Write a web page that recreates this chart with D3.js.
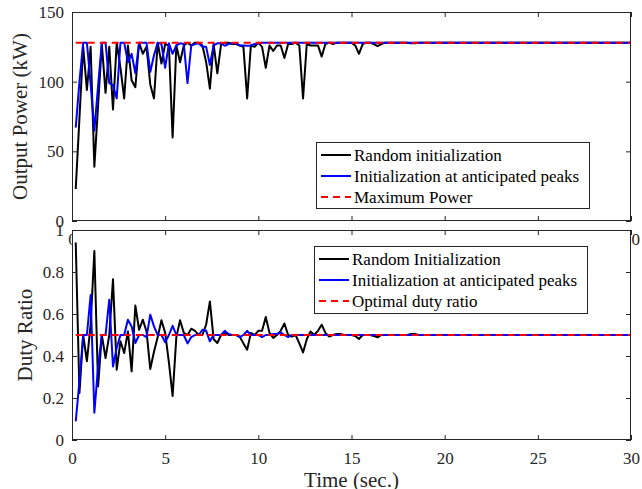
<!DOCTYPE html>
<html>
<head>
<meta charset="utf-8">
<script src="https://cdn.jsdelivr.net/npm/d3@7"></script>
<style>
  body { margin: 0; background: #fff; }
  svg { display: block; }
  svg text { font-family: "Liberation Serif", "Times New Roman", serif; }
</style>
</head>
<body>
<div id="graph"></div>
<script>
// sample times (s)
var timeSec = [
  0.2, 0.4, 0.6, 0.8, 1.0, 1.2, 1.4, 1.6, 1.8, 2.0,
  2.2, 2.4, 2.6, 2.8, 3.0, 3.2, 3.4, 3.6, 3.8, 4.0,
  4.2, 4.4, 4.6, 4.8, 5.0, 5.2, 5.4, 5.6, 5.8, 6.0,
  6.2, 6.4, 6.6, 6.8, 7.0, 7.2, 7.4, 7.6, 7.8, 8.0,
  8.2, 8.4, 8.6, 8.8, 9.0, 9.2, 9.4, 9.6, 9.8, 10.0,
  10.2, 10.4, 10.6, 10.8, 11.0, 11.2, 11.4, 11.6, 11.8, 12.0,
  12.2, 12.4, 12.6, 12.8, 13.0, 13.2, 13.4, 13.6, 13.8, 14.0,
  14.2, 14.4, 14.6, 14.8, 15.0, 15.2, 15.4, 15.6, 15.8, 16.0,
  16.2, 16.4, 16.6, 16.8, 17.0, 17.2, 17.4, 17.6, 17.8, 18.0,
  18.2, 18.4, 18.6, 30
];

// output power (kW)
var powerRandom = [
  23, 74, 125, 94, 125, 39, 83, 127, 92, 125,
  80, 128, 110, 88, 126, 101, 96, 128, 120, 125,
  98, 88, 128, 113, 127, 126, 60, 126, 114, 126,
  128, 126, 128, 128, 126, 114, 95, 127, 106, 127,
  128, 128, 127, 127, 126, 125, 88, 126, 125, 128,
  125, 110, 126, 122, 126, 126, 117, 127, 127, 128,
  126, 88, 127, 126, 126, 126, 118, 127, 128, 127,
  128, 128, 128, 128, 128, 126, 120, 127, 128, 128,
  127, 125.5, 127, 128, 128, 128, 128, 128, 128, 128,
  127.5, 127.5, 128, 128
];
var powerPeaks = [
  67, 100, 128, 128, 98, 65, 97, 128, 128, 99,
  97.5, 88, 128, 128, 114, 120, 106, 128, 128, 128,
  107, 119, 128, 127, 110, 127.5, 120, 126, 127.5, 127,
  99, 126, 127, 127.5, 125, 125, 112, 126, 127.5, 127.5,
  125.8, 127, 127.5, 127.5, 126, 126, 125.8, 126, 127, 127.5,
  128, 128, 128, 128, 128, 128, 128, 128, 128, 128,
  128, 128, 128, 128, 128, 128, 128, 128, 128, 128,
  128, 128, 128, 128, 128, 128, 128, 128, 128, 128,
  128, 128, 128, 128, 128, 128, 128, 128, 128, 128,
  128, 128, 128, 128
];
var maxPowerTime = [0.2, 30];
var maxPower = [128, 128];

// duty ratio
var dutyRandom = [
  0.94, 0.224, 0.50, 0.375, 0.55, 0.90, 0.255, 0.50, 0.39, 0.50,
  0.765, 0.335, 0.47, 0.414, 0.517, 0.327, 0.64, 0.525, 0.573, 0.517,
  0.338, 0.42, 0.49, 0.57, 0.51, 0.37, 0.21, 0.49, 0.57, 0.51,
  0.50, 0.53, 0.52, 0.50, 0.50, 0.55, 0.66, 0.48, 0.462, 0.50,
  0.51, 0.50, 0.50, 0.50, 0.493, 0.46, 0.43, 0.51, 0.50, 0.52,
  0.52, 0.586, 0.51, 0.486, 0.50, 0.52, 0.555, 0.50, 0.493, 0.50,
  0.46, 0.417, 0.48, 0.517, 0.50, 0.52, 0.549, 0.51, 0.493, 0.50,
  0.505, 0.505, 0.50, 0.50, 0.50, 0.495, 0.481, 0.50, 0.50, 0.50,
  0.495, 0.489, 0.50, 0.50, 0.50, 0.50, 0.50, 0.50, 0.50, 0.50,
  0.505, 0.505, 0.50, 0.50
];
var dutyPeaks = [
  0.089, 0.28, 0.50, 0.50, 0.69, 0.13, 0.35, 0.50, 0.50, 0.668,
  0.35, 0.44, 0.50, 0.50, 0.573, 0.541, 0.462, 0.50, 0.50, 0.49,
  0.597, 0.541, 0.50, 0.50, 0.465, 0.50, 0.544, 0.50, 0.50, 0.50,
  0.46, 0.49, 0.50, 0.50, 0.525, 0.52, 0.47, 0.50, 0.50, 0.50,
  0.52, 0.505, 0.50, 0.50, 0.49, 0.50, 0.52, 0.50, 0.50, 0.50,
  0.49, 0.50, 0.50, 0.505, 0.505, 0.512, 0.50, 0.49, 0.50, 0.50,
  0.50, 0.50, 0.50, 0.50, 0.50, 0.50, 0.50, 0.50, 0.50, 0.50,
  0.50, 0.50, 0.50, 0.50, 0.50, 0.50, 0.50, 0.50, 0.50, 0.50,
  0.50, 0.50, 0.50, 0.50, 0.50, 0.50, 0.50, 0.50, 0.50, 0.50,
  0.50, 0.50, 0.50, 0.50
];
var optimalDutyTime = [0.2, 30];
var optimalDuty = [0.5, 0.5];

var xTicks = [0, 5, 10, 15, 20, 25, 30];
var powerTicks = [0, 50, 100, 150];
var dutyTicks = [0, 0.2, 0.4, 0.6, 0.8, 1];

var powerLegend = ["Random initialization", "Initialization at anticipated peaks", "Maximum Power"];
var dutyLegend = ["Random Initialization", "Initialization at anticipated peaks", "Optimal duty ratio"];

var SVGwidth = 642,
	SVGheight = 489,
	axisColor = "#262626",
	serif = "'Liberation Serif', 'Times New Roman', serif";

var svg = d3.select("div#graph")
	.append("svg")
	.attr("width", SVGwidth)
	.attr("height", SVGheight)
	.attr("font-family", serif);

function panel (opts) {
	var g = svg.append("g");
	var x = d3.scaleLinear().domain([0, 30]).range([opts.left, opts.right]);
	var y = d3.scaleLinear().domain(opts.yDomain).range([opts.bottom, opts.top]);

	g.append("rect")
		.attr("x", opts.left).attr("y", opts.top)
		.attr("width", opts.right - opts.left)
		.attr("height", opts.bottom - opts.top)
		.attr("fill", "#fff");

	var line = d3.line()
		.x(function (d) { return x(d[0]); })
		.y(function (d) { return y(d[1]); });

	opts.series.forEach(function (s) {
		g.append("path")
			.datum(d3.zip(s.t, s.v))
			.attr("d", line)
			.attr("fill", "none")
			.attr("stroke", s.color)
			.attr("stroke-width", 2)
			.attr("stroke-linejoin", "round")
			.attr("stroke-dasharray", s.dash || null);
	});

	// axes, ticks pointing inward on all four sides
	var styleAxis = function (sel) {
		sel.attr("font-family", serif).attr("font-size", 17);
		sel.select(".domain").remove();
		sel.selectAll("line").attr("stroke", axisColor);
		sel.selectAll("text").attr("fill", axisColor);
	};

	g.append("g")
		.attr("transform", "translate(0," + opts.bottom + ")")
		.call(d3.axisBottom(x).tickValues(xTicks).tickSize(-5).tickPadding(12))
		.call(styleAxis);
	g.append("g")
		.attr("transform", "translate(0," + opts.top + ")")
		.call(d3.axisTop(x).tickValues(xTicks).tickSize(-5).tickFormat(""))
		.call(styleAxis);
	g.append("g")
		.attr("transform", "translate(" + opts.left + ",0)")
		.call(d3.axisLeft(y).tickValues(opts.yTicks).tickSize(-5).tickPadding(8).tickFormat(d3.format("")))
		.call(styleAxis);
	g.append("g")
		.attr("transform", "translate(" + opts.right + ",0)")
		.call(d3.axisRight(y).tickValues(opts.yTicks).tickSize(-5).tickFormat(""))
		.call(styleAxis);

	g.append("rect")
		.attr("x", opts.left + 0.5).attr("y", opts.top + 0.5)
		.attr("width", opts.right - opts.left - 1)
		.attr("height", opts.bottom - opts.top - 1)
		.attr("fill", "none")
		.attr("stroke", axisColor)
		.attr("stroke-width", 1);

	g.append("text")
		.attr("transform", "translate(" + opts.yLabelX + "," + ((opts.top + opts.bottom) / 2) + ") rotate(-90)")
		.attr("text-anchor", "middle")
		.attr("fill", axisColor)
		.attr("font-size", 21)
		.text(opts.yLabel);

	// legend
	var lg = opts.legend;
	g.append("rect")
		.attr("x", lg.x + 0.5).attr("y", lg.y + 0.5)
		.attr("width", lg.w).attr("height", lg.h)
		.attr("fill", "#fff")
		.attr("stroke", axisColor)
		.attr("stroke-width", 1);
	lg.labels.forEach(function (label, i) {
		var s = opts.series[i];
		var cy = lg.y + 13 + i * 21;
		g.append("line")
			.attr("x1", lg.x + 5).attr("x2", lg.x + 35)
			.attr("y1", cy).attr("y2", cy)
			.attr("stroke", s.color)
			.attr("stroke-width", 2)
			.attr("stroke-dasharray", s.dash || null);
		g.append("text")
			.attr("x", lg.x + 38)
			.attr("y", cy + 6)
			.attr("fill", "#000")
			.attr("font-size", 17)
			.text(label);
	});
}

panel({
	left: 72, right: 631, top: 12, bottom: 221,
	yDomain: [0, 150], yTicks: powerTicks,
	yLabel: "Output Power (kW)", yLabelX: 27,
	series: [
		{t: timeSec, v: powerRandom, color: "#000"},
		{t: timeSec, v: powerPeaks, color: "#0000ff"},
		{t: maxPowerTime, v: maxPower, color: "#ff0000", dash: "7,5"}
	],
	legend: {x: 316, y: 142, w: 273, h: 66, labels: powerLegend}
});

panel({
	left: 72, right: 631, top: 230, bottom: 440,
	yDomain: [0, 1], yTicks: dutyTicks,
	yLabel: "Duty Ratio", yLabelX: 32,
	series: [
		{t: timeSec, v: dutyRandom, color: "#000"},
		{t: timeSec, v: dutyPeaks, color: "#0000ff"},
		{t: optimalDutyTime, v: optimalDuty, color: "#ff0000", dash: "7,5"}
	],
	legend: {x: 314, y: 246, w: 273, h: 67, labels: dutyLegend}
});

svg.append("text")
	.attr("x", 351.5)
	.attr("y", 487)
	.attr("text-anchor", "middle")
	.attr("fill", axisColor)
	.attr("font-size", 21)
	.text("Time (sec.)");
</script>
</body>
</html>
